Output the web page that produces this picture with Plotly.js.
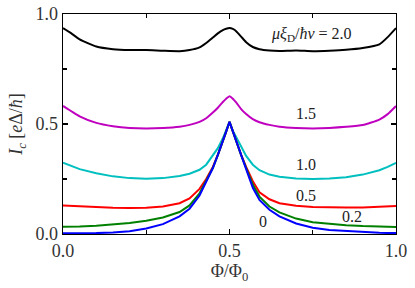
<!DOCTYPE html>
<html>
<head>
<meta charset="utf-8">
<script src="https://cdn.plot.ly/plotly-3.0.1.min.js"></script>
<style>html,body{margin:0;padding:0;background:#fff;}#chart{width:415px;height:288px;}</style>
</head>
<body>
<div id="chart"></div>
<script>
const phi = [0, 0.025, 0.05, 0.1, 0.15, 0.2, 0.25, 0.3, 0.35, 0.38, 0.41, 0.43, 0.45, 0.465, 0.48, 0.49, 0.5,
             0.51, 0.52, 0.535, 0.55, 0.57, 0.59, 0.62, 0.65, 0.7, 0.75, 0.8, 0.85, 0.9, 0.95, 0.975, 1.0];

const ic_20 = [0.936, 0.912, 0.885, 0.852, 0.840, 0.836, 0.836, 0.833, 0.831, 0.836, 0.848, 0.868, 0.893, 0.912, 0.927, 0.933, 0.936,
               0.932, 0.922, 0.897, 0.872, 0.850, 0.840, 0.834, 0.832, 0.834, 0.831, 0.833, 0.837, 0.845, 0.862, 0.895, 0.936];
const ic_15 = [0.582, 0.558, 0.535, 0.505, 0.490, 0.482, 0.480, 0.482, 0.488, 0.496, 0.510, 0.526, 0.552, 0.574, 0.600, 0.615, 0.626,
               0.615, 0.598, 0.568, 0.545, 0.522, 0.508, 0.496, 0.488, 0.482, 0.480, 0.482, 0.487, 0.495, 0.520, 0.545, 0.582];
const ic_10 = [0.324, 0.308, 0.295, 0.276, 0.262, 0.254, 0.251, 0.254, 0.264, 0.274, 0.292, 0.315, 0.355, 0.390, 0.435, 0.470, 0.510,
               0.470, 0.440, 0.395, 0.355, 0.315, 0.290, 0.270, 0.260, 0.252, 0.250, 0.252, 0.258, 0.270, 0.290, 0.305, 0.323];
const ic_05 = [0.129, 0.127, 0.125, 0.121, 0.119, 0.118, 0.119, 0.125, 0.140, 0.162, 0.205, 0.250, 0.305, 0.360, 0.420, 0.465, 0.510,
               0.465, 0.420, 0.360, 0.305, 0.240, 0.190, 0.158, 0.140, 0.128, 0.123, 0.120, 0.120, 0.120, 0.123, 0.125, 0.127];
const ic_02 = [0.033, 0.033, 0.034, 0.038, 0.043, 0.050, 0.060, 0.075, 0.100, 0.130, 0.185, 0.240, 0.300, 0.360, 0.420, 0.465, 0.510,
               0.465, 0.420, 0.358, 0.300, 0.225, 0.170, 0.125, 0.098, 0.070, 0.053, 0.046, 0.040, 0.036, 0.034, 0.033, 0.032];
const ic_00 = [0.003, 0.003, 0.003, 0.004, 0.007, 0.013, 0.025, 0.045, 0.080, 0.115, 0.175, 0.235, 0.300, 0.360, 0.420, 0.465, 0.510,
               0.465, 0.420, 0.355, 0.295, 0.210, 0.155, 0.110, 0.080, 0.048, 0.028, 0.018, 0.013, 0.010, 0.006, 0.005, 0.004];

const seriesNames = ['2.0', '1.5', '1.0', '0.5', '0.2', '0'];
const seriesValues = [ic_20, ic_15, ic_10, ic_05, ic_02, ic_00];
const seriesColors = ['#000000', '#bf00bf', '#00bfbf', '#ff0000', '#008000', '#0000ff'];
const seriesShapes = ['spline', 'spline', 'linear', 'linear', 'linear', 'linear'];

const labelTexts = ['<i>μξ</i><sub>D</sub>/<i>ħv</i> = 2.0', '1.5', '1.0', '0.5', '0.2', '0'];
const labelX = [0.745, 0.73, 0.73, 0.73, 0.869, 0.602];
const labelY = [0.905, 0.55, 0.318, 0.177, 0.08, 0.055];

const xTickVals = [0, 0.5, 1];
const xTickText = ['0.0', '0.5', '1.0'];
const yTickVals = [0, 0.5, 1];
const yTickText = ['0.0', '0.5', '1.0'];

const FONT = 'Liberation Serif';

const traces = seriesValues.map((v, i) => ({
  x: phi, y: v, type: 'scatter', mode: 'lines', name: seriesNames[i],
  line: {color: seriesColors[i], width: 2, shape: seriesShapes[i], smoothing: 0.5},
  hoverinfo: 'skip'
}));

const annotations = labelTexts.map((t, i) => ({
  x: labelX[i], y: labelY[i], xref: 'x', yref: 'y', text: t, showarrow: false,
  font: {family: FONT, size: 16, color: '#222'}, xanchor: 'center', yanchor: 'middle'
}));

const axisCommon = {
  showgrid: false, zeroline: false, showline: true, linecolor: '#000', linewidth: 1.3,
  mirror: 'allticks', ticks: 'inside', ticklen: 5, tickwidth: 1.3, tickcolor: '#000',
  tickmode: 'array', tickfont: {family: FONT, size: 18, color: '#333'},
  minor: {tickmode: 'linear', tick0: 0, dtick: 0.25, ticks: 'inside', ticklen: 4, tickwidth: 1.3, tickcolor: '#000', showgrid: false}
};

const layout = {
  width: 415, height: 288,
  margin: {l: 63, r: 19, t: 14, b: 54},
  paper_bgcolor: '#fff', plot_bgcolor: '#fff',
  showlegend: false,
  xaxis: Object.assign({}, axisCommon, {
    range: [0, 1], tickvals: xTickVals, ticktext: xTickText,
    title: {text: 'Φ/Φ<sub>0</sub>', font: {family: FONT, size: 18, color: '#333'}, standoff: 2}
  }),
  yaxis: Object.assign({}, axisCommon, {
    range: [0, 1], tickvals: yTickVals, ticktext: yTickText,
    title: {text: '<i>I</i><sub><i>c</i></sub> [<i>e</i>Δ/<i>ħ</i>]', font: {family: FONT, size: 18, color: '#333'}, standoff: 8}
  }),
  annotations: annotations
};

Plotly.newPlot('chart', traces, layout, {staticPlot: true, displayModeBar: false});
</script>
</body>
</html>
